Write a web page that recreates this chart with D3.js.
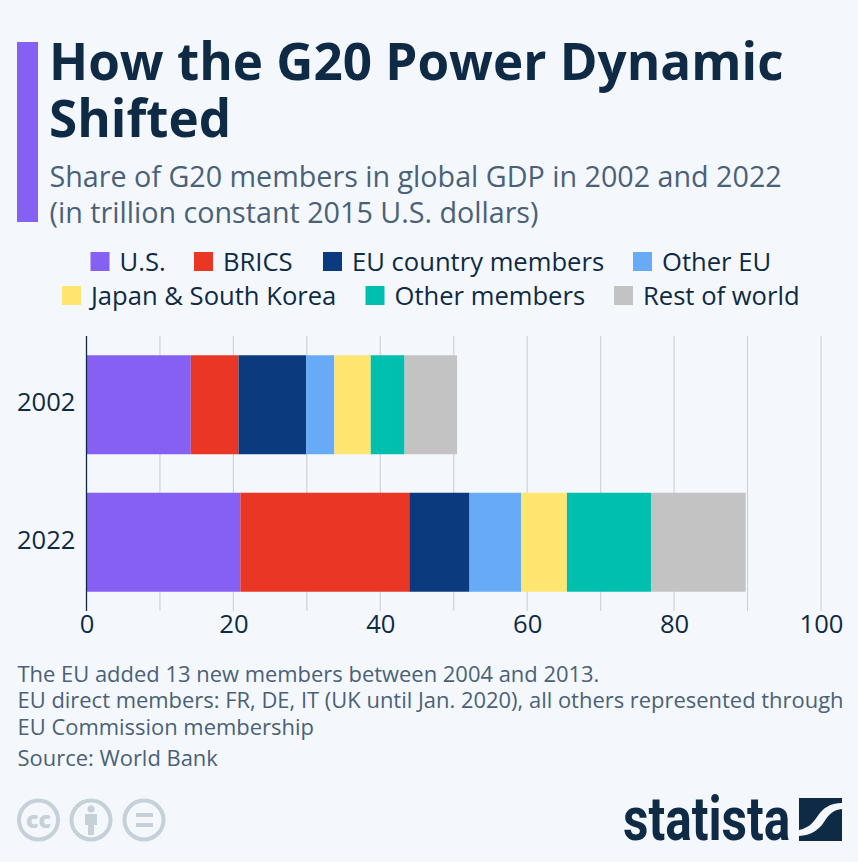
<!DOCTYPE html>
<html><head><meta charset="utf-8">
<script src="https://cdnjs.cloudflare.com/ajax/libs/d3/7.8.5/d3.min.js"></script>
<style>
html,body{margin:0;padding:0;background:#f4f8fc;overflow:hidden}
svg{display:block}
text{font-family:"Open Sans",sans-serif}
</style></head><body>
<svg id="c" width="858" height="862"></svg>
<script>
const years=["2002","2022"];
const seriesNames=["U.S.","BRICS","EU country members","Other EU","Japan & South Korea","Other members","Rest of world"];
const colors=["#8560f2","#ea3725","#0b3a7e","#67abf7","#ffe671","#00bfae","#c3c3c3"];
const v2002=[14.2,6.5,9.2,3.85,4.95,4.6,7.15];
const v2022=[20.95,23.0,8.2,7.05,6.2,11.45,12.9];
const ticks=[0,20,40,60,80,100];
const gridTicks=[10,20,30,40,50,60,70,80,90,100];
const titleLines=["How the G20 Power Dynamic","Shifted"];
const subtitleLines=["Share of G20 members in global GDP in 2002 and 2022","(in trillion constant 2015 U.S. dollars)"];
const noteLines=["The EU added 13 new members between 2004 and 2013.","EU direct members: FR, DE, IT (UK until Jan. 2020), all others represented through","EU Commission membership"];
const sourceText="Source: World Bank";
const legendRows=[[0,1,2,3],[4,5,6]];

const svg=d3.select("#c");
const dark="#0f2a44", grey="#4a6178";
svg.append("rect").attr("width",858).attr("height",862).attr("fill","#f4f8fc");
svg.append("rect").attr("x",17).attr("y",42).attr("width",21).attr("height",180).attr("fill","#8560f2");
svg.selectAll(".t").data(titleLines).join("text").attr("x",49).attr("y",(d,i)=>80+i*57)
  .attr("font-size",51.2).attr("font-weight",700).attr("fill",dark).text(d=>d);
svg.selectAll(".s").data(subtitleLines).join("text").attr("x",49.5).attr("y",(d,i)=>186.5+i*36)
  .attr("font-size",28.7).attr("fill",grey).text(d=>d);

const legX=[[90.5,194,323,633],[62,365.5,614]];
const legY=[262,296];
legendRows.forEach((row,r)=>row.forEach((idx,i)=>{
  svg.append("rect").attr("x",legX[r][i]).attr("y",legY[r]-10).attr("width",19).attr("height",19).attr("fill",colors[idx]);
  svg.append("text").attr("x",legX[r][i]+29).attr("y",legY[r]+9).attr("font-size",25.6).attr("fill",dark).text(seriesNames[idx]);
}));

const x=d3.scaleLinear().domain([0,100]).range([86.5,821]);
const y=d3.scaleBand().domain(years).range([336,611]).paddingInner(0.28).paddingOuter(0.14);
svg.append("g").selectAll("line").data(gridTicks).join("line")
  .attr("x1",d=>x(d)).attr("x2",d=>x(d)).attr("y1",336).attr("y2",611)
  .attr("stroke","#cdd3da").attr("stroke-width",1.2);

const rows=[v2002,v2022].map((v,i)=>{const o={year:years[i]};seriesNames.forEach((n,j)=>o[n]=v[j]);return o;});
const stack=d3.stack().keys(seriesNames)(rows);
svg.append("g").selectAll("g").data(stack).join("g").attr("fill",(d,i)=>colors[i])
  .selectAll("rect").data(d=>d).join("rect")
  .attr("x",d=>x(d[0])).attr("width",d=>x(d[1])-x(d[0]))
  .attr("y",d=>y(d.data.year)).attr("height",y.bandwidth());

svg.append("line").attr("x1",x(0)).attr("x2",x(0)).attr("y1",336).attr("y2",611).attr("stroke",dark).attr("stroke-width",1.3);

const xAxis=svg.append("g").attr("transform","translate(0,611)").call(d3.axisBottom(x).tickValues(ticks).tickSize(0).tickPadding(4));
xAxis.select(".domain").remove();
xAxis.selectAll("text").attr("font-size",25.6).attr("fill",dark).style("font-family",'"Open Sans",sans-serif');
const yAxis=svg.append("g").attr("transform","translate(86.5,-1.5)").call(d3.axisLeft(y).tickSize(0).tickPadding(11));
yAxis.select(".domain").remove();
yAxis.selectAll("text").attr("font-size",25.6).attr("fill",dark).style("font-family",'"Open Sans",sans-serif');

svg.selectAll(".n").data(noteLines).join("text").attr("x",17.5).attr("y",(d,i)=>681.5+i*26.5)
  .attr("font-size",21.95).attr("fill",grey).text(d=>d);
svg.append("text").attr("x",17.5).attr("y",765.5).attr("font-size",21.95).attr("fill",grey).text(sourceText);

const ic="#c5d0d9";
[38.5,91,144].forEach(cx=>svg.append("circle").attr("cx",cx).attr("cy",820).attr("r",19.5).attr("fill","none").attr("stroke",ic).attr("stroke-width",4));
svg.append("text").attr("x",38.5).attr("y",828).attr("text-anchor","middle").attr("font-size",23).attr("font-weight",800).attr("fill",ic).text("cc");
svg.append("circle").attr("cx",91).attr("cy",809).attr("r",3.6).attr("fill",ic);
svg.append("path").attr("d","M85 814h12v11h-3v10h-6v-10h-3z").attr("fill",ic);
svg.append("rect").attr("x",136).attr("y",813).attr("width",17).attr("height",4).attr("fill",ic);
svg.append("rect").attr("x",136).attr("y",823).attr("width",17).attr("height",4).attr("fill",ic);

svg.append("text").attr("transform","translate(623,840) scale(0.84,1.02)").attr("font-size",59).attr("font-weight",700)
  .style("font-family","Roboto").attr("fill",dark).text("statista");
svg.append("path").attr("fill",dark).attr("d","M799 798h43v5c-12 0-19 5-25 14c-5 7-9 11-18 13zM842 809v32h-43v-5c12-1 19-5 25-14c5-8 9-12 18-13z");
</script></body></html>
